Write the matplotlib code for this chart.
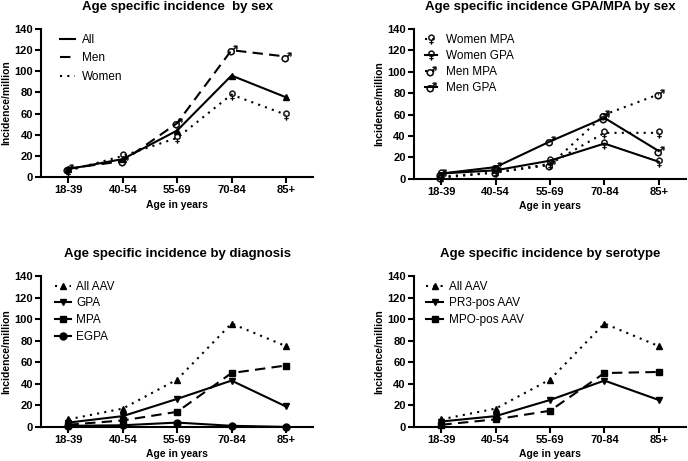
import matplotlib
matplotlib.use("Agg")
import matplotlib.pyplot as plt
from matplotlib.lines import Line2D

plt.rcParams['font.family'] = ['Liberation Sans', 'DejaVu Sans']

ages = ["18-39", "40-54", "55-69", "70-84", "85+"]

# Panel 1: by sex
sex_all = [7.5, 17, 44, 96, 75.5]
sex_men = [8, 15, 51, 120, 114]
sex_women = [6, 20, 37, 78, 59]

# Panel 2: GPA/MPA by sex
women_mpa = [1, 6, 14, 43, 43]
women_gpa = [5, 8, 17, 33, 16]
men_mpa = [2, 6, 13, 60, 79]
men_gpa = [5, 11, 35, 57, 26]

# Panel 3: by diagnosis
diag_all = [7, 17, 44, 96, 75]
diag_gpa = [4, 10, 26, 43, 19]
diag_mpa = [2, 6, 14, 50, 57]
diag_egpa = [1, 1.5, 4, 1, 0]

# Panel 4: by serotype
sero_all = [7, 17, 44, 96, 75]
sero_pr3 = [5, 10, 25, 43, 25]
sero_mpo = [2, 7, 15, 50, 51]

MALE = "$\u2642$"
FEMALE = "$\u2640$"
DOT = (0, (1, 2.5))
DASH = (0, (5, 3))

fig = plt.figure(figsize=(6.88, 4.61), dpi=100)
pos = [
    [0.060, 0.616, 0.395, 0.321],
    [0.602, 0.612, 0.395, 0.325],
    [0.060, 0.074, 0.395, 0.327],
    [0.602, 0.074, 0.395, 0.327],
]
titles = [
    "Age specific incidence  by sex",
    "Age specific incidence GPA/MPA by sex",
    "Age specific incidence by diagnosis",
    "Age specific incidence by serotype",
]
axes = [fig.add_axes(p) for p in pos]
x = list(range(len(ages)))

for ax, t in zip(axes, titles):
    ax.set_xlim(-0.5, 4.5)
    ax.set_ylim(0, 140)
    ax.set_yticks(range(0, 141, 20))
    ax.set_xticks(x)
    ax.set_xticklabels(ages)
    for s in ["top", "right"]:
        ax.spines[s].set_visible(False)
    for s in ["left", "bottom"]:
        ax.spines[s].set_linewidth(1.5)
    ax.tick_params(width=1.5, length=4, labelsize=8, pad=2)
    for lab in ax.get_xticklabels() + ax.get_yticklabels():
        lab.set_fontweight("bold")
    ax.set_xlabel("Age in years", fontsize=7.5, fontweight="bold", labelpad=3)
    ax.set_ylabel("Incidence/million", fontsize=7.5, fontweight="bold", labelpad=2)
    ax.set_title(t, fontsize=9.5, fontweight="bold", pad=14)

lw = 1.5
k = dict(color="black", lw=lw, clip_on=False)
sym = dict(ms=7, mew=0.3)
leg = dict(frameon=False, loc="upper left", fontsize=8.5)

# Panel 1
ax = axes[0]
ax.plot(x, sex_all, ls="-", marker="^", ms=5, **k)
ax.plot(x, sex_men, ls=DASH, marker=MALE, **sym, **k)
ax.plot(x, sex_women, ls=DOT, marker=FEMALE, **sym, **k)
handles = [Line2D([], [], color="black", lw=lw, ls="-"),
           Line2D([], [], color="black", lw=lw, ls=DASH),
           Line2D([], [], color="black", lw=lw, ls=DOT)]
ax.legend(handles, ["All", "Men", "Women"], bbox_to_anchor=(0.03, 1.04),
          handlelength=1.3, labelspacing=0.55, handletextpad=0.55, **leg)

# Panel 2
ax = axes[1]
ax.plot(x, women_mpa, ls=DOT, marker=FEMALE, label="Women MPA", **sym, **k)
ax.plot(x, women_gpa, ls="-", marker=FEMALE, label="Women GPA", **sym, **k)
ax.plot(x, men_mpa, ls=DOT, marker=MALE, label="Men MPA", **sym, **k)
ax.plot(x, men_gpa, ls="-", marker=MALE, label="Men GPA", **sym, **k)
ax.legend(bbox_to_anchor=(0.0, 1.04), handlelength=1.0, labelspacing=0.35,
          handletextpad=0.8, **leg)

# Panel 3
ax = axes[2]
ax.plot(x, diag_all, ls=DOT, marker="^", ms=5, **k)
ax.plot(x, diag_gpa, ls="-", marker="v", ms=5, **k)
ax.plot(x, diag_mpa, ls=DASH, marker="s", ms=5, **k)
ax.plot(x, diag_egpa, ls="-", marker="o", ms=5, **k)
handles = [Line2D([], [], color="black", lw=lw, ls=DOT, marker="^", ms=5),
           Line2D([], [], color="black", lw=lw, ls="-", marker="v", ms=5),
           Line2D([], [], color="black", lw=lw, ls="-", marker="s", ms=5),
           Line2D([], [], color="black", lw=lw, ls="-", marker="o", ms=5)]
ax.legend(handles, ["All AAV", "GPA", "MPA", "EGPA"], bbox_to_anchor=(0.01, 1.04),
          handlelength=1.4, labelspacing=0.4, handletextpad=0.45, **leg)

# Panel 4
ax = axes[3]
ax.plot(x, sero_all, ls=DOT, marker="^", ms=5, **k)
ax.plot(x, sero_pr3, ls="-", marker="v", ms=5, **k)
ax.plot(x, sero_mpo, ls=DASH, marker="s", ms=5, **k)
handles = [Line2D([], [], color="black", lw=lw, ls=DOT, marker="^", ms=5),
           Line2D([], [], color="black", lw=lw, ls="-", marker="v", ms=5),
           Line2D([], [], color="black", lw=lw, ls="-", marker="s", ms=5)]
ax.legend(handles, ["All AAV", "PR3-pos AAV", "MPO-pos AAV"],
          bbox_to_anchor=(0.005, 1.04), handlelength=1.45, labelspacing=0.4,
          handletextpad=0.45, **leg)

fig.savefig("out.png", dpi=100)
